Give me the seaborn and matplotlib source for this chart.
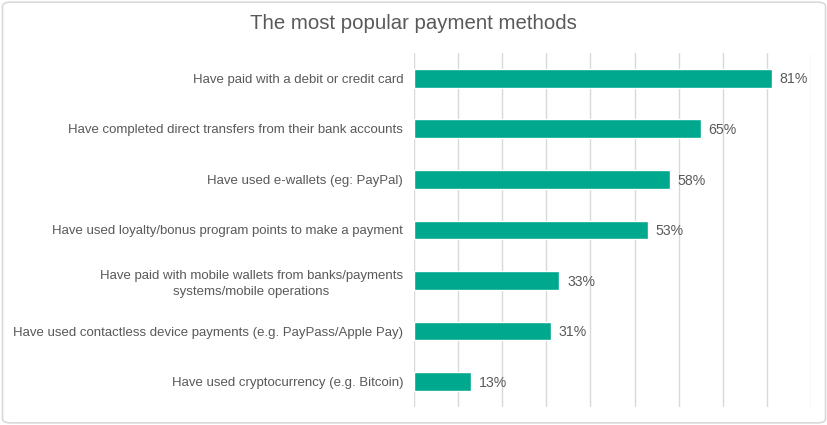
import matplotlib
matplotlib.use("Agg")
import matplotlib.pyplot as plt
import seaborn as sns
import pandas as pd
from matplotlib.patches import FancyBboxPatch

categories = [
    "Have paid with a debit or credit card",
    "Have completed direct transfers from their bank accounts",
    "Have used e-wallets (eg: PayPal)",
    "Have used loyalty/bonus program points to make a payment",
    "Have paid with mobile wallets from banks/payments\nsystems/mobile operations",
    "Have used contactless device payments (e.g. PayPass/Apple Pay)",
    "Have used cryptocurrency (e.g. Bitcoin)",
]
values = [81, 65, 58, 53, 33, 31, 13]
value_labels = ["81%", "65%", "58%", "53%", "33%", "31%", "13%"]
title = "The most popular payment methods"

sns.set_theme(style="white")
plt.rcParams['font.family'] = ['Liberation Sans', 'DejaVu Sans']

df = pd.DataFrame({"category": categories, "value": values})

fig = plt.figure(figsize=(8.28, 4.25), dpi=100)
ax = fig.add_axes([0.4995, 0.0424, 0.98 - 0.4995, 0.8753 - 0.0424])

text_color = "#595959"
bar_color = "#00a88e"

sns.barplot(data=df, x="value", y="category", orient="h", color=bar_color,
            width=0.37, ax=ax, saturation=1)

ax.set_xlim(0, 90)
ax.set_xticks(range(0, 91, 10))
ax.grid(axis="x", color="#d9d9d9", linewidth=1)
ax.set_axisbelow(True)
ax.tick_params(axis="x", length=0, labelbottom=False)
ax.tick_params(axis="y", length=0, labelsize=9.5, labelcolor=text_color, pad=7.5)
for lbl in ax.get_yticklabels():
    lbl.set_multialignment("center")
    lbl.set_linespacing(1.45)
ax.set_xlabel("")
ax.set_ylabel("")
for s in ax.spines.values():
    s.set_visible(False)

for i, (v, t) in enumerate(zip(values, value_labels)):
    ax.annotate(t, xy=(v, i), xytext=(5.5, -0.8), textcoords="offset points",
                va="center", ha="left", fontsize=10.2, color=text_color)

fig.text(0.499, 0.945, title, ha="center", va="center", fontsize=14.7, color=text_color)

border = FancyBboxPatch((0.003, 0.005), 0.994, 0.99, boxstyle="round,pad=0,rounding_size=0.01",
                        transform=fig.transFigure, facecolor="none", edgecolor="#d9d9d9",
                        linewidth=1.2)
fig.patches.append(border)

fig.savefig("out.png", dpi=100)
